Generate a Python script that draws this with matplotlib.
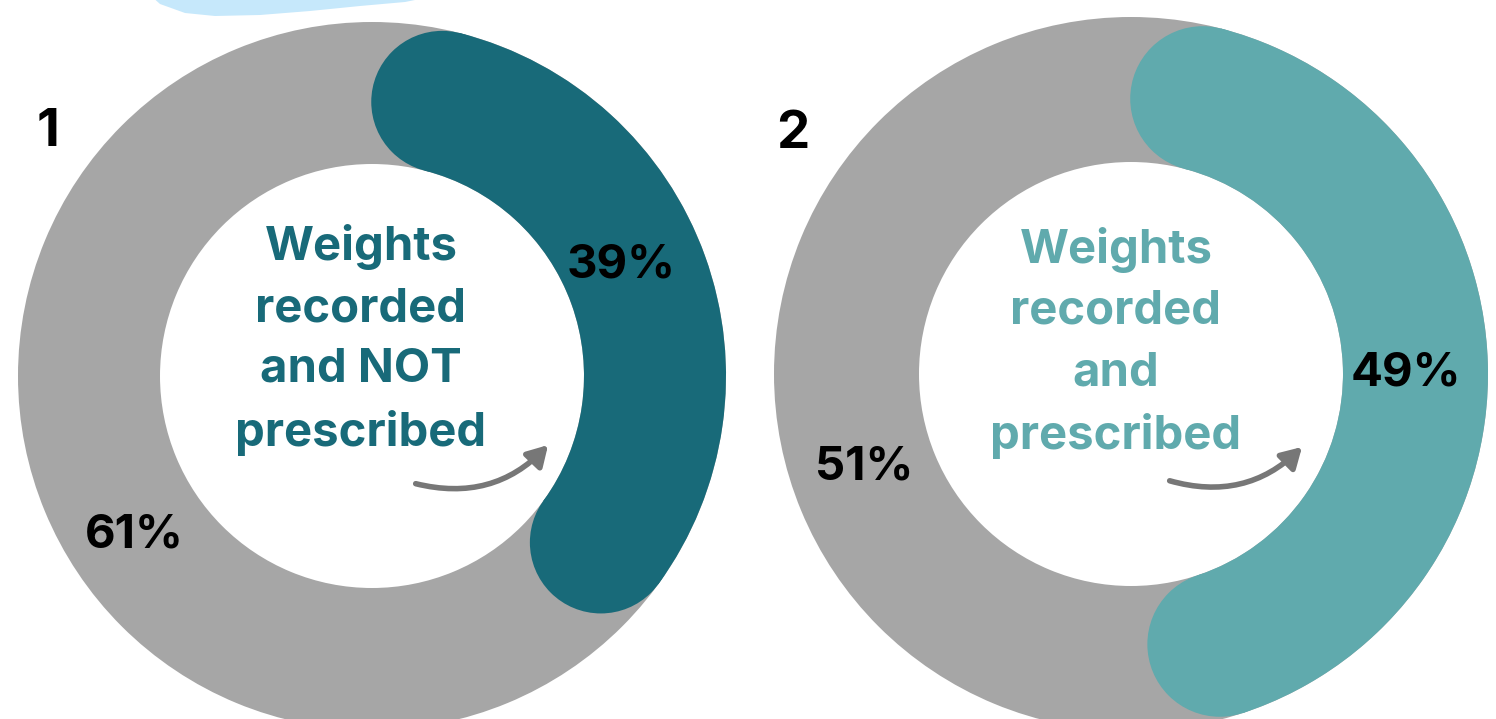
"""
Two donut charts: share of weights recorded and NOT prescribed / prescribed.
"""
import numpy as np
import matplotlib.pyplot as plt
from matplotlib.patches import Wedge, Circle, FancyArrowPatch, Polygon

# data
panel_numbers = ["1", "2"]
share_pct = [39, 49]
rest_pct = [61, 51]
center_labels = ["Weights\nrecorded\nand NOT\nprescribed", "Weights\nrecorded\nand\nprescribed"]

ring_color = "#a6a6a6"
arc_colors = ["#186a79", "#60aaad"]

plt.rcParams["font.family"] = ["Inter", "DejaVu Sans"]

fig = plt.figure(figsize=(14.96, 7.19), dpi=100)
ax = fig.add_axes([0, 0, 1, 1])
ax.set_xlim(0, 1496)
ax.set_ylim(719, 0)
ax.set_aspect("equal")
ax.axis("off")

# light blue blob at the top edge
blob = [(150, -5), (160, 4), (185, 13), (215, 16), (260, 15), (310, 11), (360, 6), (405, 2), (440, -5)]
ax.add_patch(Polygon(blob, closed=True, facecolor="#c6e8fb", edgecolor="none"))

centers = [(372, 376), (1131, 374)]
r_out = [354, 357]
r_in = 212


def pos(c, r, phi):
    # phi: degrees clockwise from 12 o'clock
    a = np.radians(phi)
    return c[0] + r * np.sin(a), c[1] - r * np.cos(a)


for i, (c, R) in enumerate(zip(centers, r_out)):
    w = R - r_in
    rm = (R + r_in) / 2
    ax.add_patch(Wedge(c, R, 0, 360, width=w, facecolor=ring_color, edgecolor="none"))
    span = share_pct[i] / 100 * 360
    cap = np.degrees((w / 2) / rm)
    p1, p2 = cap, span - cap
    ax.add_patch(Wedge(c, R, p1 - 90, p2 - 90, width=w, facecolor=arc_colors[i], edgecolor="none"))
    for p in (p1, p2):
        ax.add_patch(Circle(pos(c, rm, p), w / 2, facecolor=arc_colors[i], edgecolor="none"))

# centre text
ax.text(361, 340, center_labels[0], ha="center", va="center", fontsize=34, fontweight="bold",
        color=arc_colors[0], linespacing=1.5)
ax.text(1116, 343, center_labels[1], ha="center", va="center", fontsize=34, fontweight="bold",
        color=arc_colors[1], linespacing=1.5)

# percentages
ax.text(621, 266, f"{share_pct[0]}%", ha="center", va="center", fontsize=34, fontweight="bold", color="black")
ax.text(134, 535, f"{rest_pct[0]}%", ha="center", va="center", fontsize=34, fontweight="bold", color="black")
ax.text(1406, 374, f"{share_pct[1]}%", ha="center", va="center", fontsize=34, fontweight="bold", color="black")
ax.text(864, 468, f"{rest_pct[1]}%", ha="center", va="center", fontsize=34, fontweight="bold", color="black")

# panel numbers
ax.text(48, 133, panel_numbers[0], ha="center", va="center", fontsize=38, fontweight="bold", color="black")
ax.text(793, 135, panel_numbers[1], ha="center", va="center", fontsize=38, fontweight="bold", color="black")

# curved arrows
for start, end in [((413, 483), (550, 443)), ((1167, 480), (1304, 445))]:
    ax.add_patch(FancyArrowPatch(start, end, connectionstyle="arc3,rad=0.3",
                                 arrowstyle="-|>,head_length=12,head_width=7", color="#777777",
                                 linewidth=4, mutation_scale=1))

fig.savefig("out.png", dpi=100)
